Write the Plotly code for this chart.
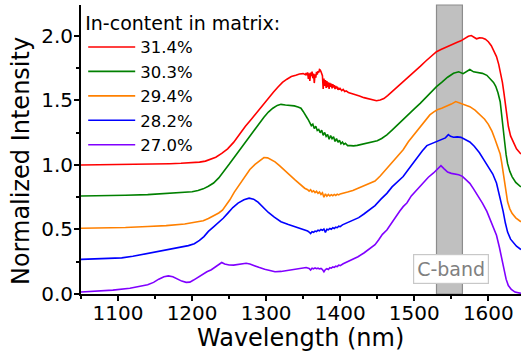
import plotly.graph_objects as go

# Photoluminescence spectra for different indium contents of the matrix
labels = ["31.4%", "30.3%", "29.4%", "28.2%", "27.0%"]
colors = ["#ff0000", "#008000", "#ff8000", "#0000ff", "#8000ff"]

spec_314 = [
    (1050, 1.000), (1070, 1.001), (1090, 1.003), (1110, 1.004), (1130, 1.006), (1150, 1.008),
    (1170, 1.010), (1185, 1.013), (1200, 1.017), (1210, 1.022), (1218, 1.030), (1225, 1.042),
    (1232, 1.060), (1240, 1.090), (1248, 1.125), (1256, 1.175), (1264, 1.240), (1272, 1.300),
    (1280, 1.355), (1289, 1.420), (1296, 1.470), (1303, 1.520), (1310, 1.565), (1316, 1.605),
    (1322, 1.640), (1328, 1.665), (1334, 1.685), (1340, 1.695), (1345, 1.705), (1350, 1.708),
    (1353, 1.700), (1354, 1.712), (1355, 1.695), (1356, 1.718), (1357, 1.668), (1358, 1.710),
    (1359, 1.652), (1360, 1.716), (1361, 1.690), (1362, 1.724), (1363, 1.672), (1364, 1.708),
    (1365, 1.635), (1366, 1.702), (1367, 1.676), (1368, 1.722), (1369, 1.700), (1370, 1.728),
    (1371, 1.716), (1372, 1.740), (1373, 1.736), (1374, 1.724), (1375, 1.708), (1376, 1.692),
    (1377, 1.590), (1378, 1.670), (1379, 1.612), (1380, 1.658), (1381, 1.598), (1382, 1.650),
    (1383, 1.604), (1384, 1.640), (1385, 1.590), (1386, 1.636), (1387, 1.606), (1388, 1.630),
    (1389, 1.594), (1390, 1.626), (1391, 1.600), (1392, 1.618), (1393, 1.588), (1394, 1.612),
    (1395, 1.594), (1396, 1.606), (1397, 1.582), (1398, 1.598), (1399, 1.584), (1400, 1.592),
    (1402, 1.576), (1404, 1.586), (1406, 1.570), (1408, 1.574), (1411, 1.562), (1415, 1.556),
    (1420, 1.546), (1426, 1.535), (1432, 1.522), (1438, 1.512), (1444, 1.502), (1449, 1.498),
    (1454, 1.503), (1459, 1.515), (1464, 1.538), (1470, 1.568), (1477, 1.605), (1485, 1.646),
    (1493, 1.690), (1500, 1.725), (1508, 1.764), (1516, 1.808), (1524, 1.850), (1530, 1.878),
    (1536, 1.895), (1542, 1.912), (1548, 1.930), (1553, 1.943), (1558, 1.952), (1563, 1.962),
    (1568, 1.980), (1573, 1.998), (1577, 2.003), (1581, 1.990), (1584, 1.978), (1588, 1.985),
    (1592, 1.984), (1596, 1.975), (1600, 1.955), (1604, 1.925), (1608, 1.880), (1611, 1.840),
    (1614, 1.780), (1617, 1.710), (1619, 1.640), (1621, 1.560), (1623, 1.470), (1625, 1.380),
    (1627, 1.300), (1630, 1.225), (1634, 1.168), (1638, 1.125), (1644, 1.085),
]

spec_303 = [
    (1050, 0.760), (1080, 0.761), (1110, 0.765), (1140, 0.770), (1165, 0.778), (1185, 0.785),
    (1200, 0.793), (1208, 0.802), (1215, 0.815), (1222, 0.835), (1229, 0.860), (1236, 0.900),
    (1243, 0.950), (1250, 1.005), (1257, 1.060), (1264, 1.115), (1271, 1.175), (1278, 1.230),
    (1285, 1.280), (1291, 1.325), (1297, 1.370), (1303, 1.410), (1309, 1.440),
    (1315, 1.462), (1320, 1.470), (1326, 1.465), (1332, 1.462), (1338, 1.458), (1343, 1.450),
    (1347, 1.440), (1350, 1.415), (1353, 1.392), (1355, 1.368), (1357, 1.350), (1359, 1.326),
    (1361, 1.305), (1363, 1.316), (1365, 1.282), (1367, 1.300), (1369, 1.268), (1371, 1.276),
    (1373, 1.250), (1375, 1.270), (1377, 1.230), (1379, 1.252), (1381, 1.222), (1383, 1.236),
    (1385, 1.200), (1387, 1.228), (1389, 1.204), (1391, 1.218), (1393, 1.182), (1395, 1.204),
    (1397, 1.176), (1399, 1.192), (1401, 1.165), (1403, 1.178), (1405, 1.160), (1407, 1.168),
    (1410, 1.150), (1414, 1.150), (1418, 1.148), (1423, 1.152), (1430, 1.160), (1437, 1.170),
    (1444, 1.180), (1450, 1.188), (1456, 1.205), (1463, 1.233), (1470, 1.270), (1477, 1.310),
    (1485, 1.349), (1492, 1.390), (1500, 1.435), (1508, 1.478), (1515, 1.520), (1522, 1.562),
    (1530, 1.607), (1537, 1.640), (1545, 1.680), (1553, 1.711), (1560, 1.722), (1566, 1.708),
    (1571, 1.725), (1575, 1.740), (1580, 1.722), (1586, 1.715), (1592, 1.710), (1598, 1.695),
    (1603, 1.665), (1607, 1.640), (1610, 1.610), (1613, 1.560), (1616, 1.490), (1618, 1.400),
    (1620, 1.290), (1622, 1.180), (1624, 1.080), (1626, 1.010), (1629, 0.950), (1632, 0.910),
    (1637, 0.865), (1644, 0.830),
]

spec_294 = [
    (1050, 0.510), (1080, 0.511), (1110, 0.516), (1140, 0.523), (1165, 0.530), (1190, 0.543),
    (1205, 0.555), (1215, 0.568), (1222, 0.585), (1229, 0.605), (1236, 0.628), (1241, 0.650),
    (1246, 0.690), (1251, 0.730), (1257, 0.790), (1264, 0.850), (1271, 0.915), (1278, 0.965),
    (1285, 1.005), (1291, 1.035), (1297, 1.058), (1302, 1.055), (1307, 1.040), (1312, 1.024),
    (1318, 0.995), (1325, 0.961), (1332, 0.922), (1339, 0.884), (1346, 0.848), (1352, 0.820),
    (1356, 0.808), (1358, 0.797), (1360, 0.808), (1362, 0.792), (1364, 0.800), (1366, 0.786),
    (1368, 0.796), (1370, 0.780), (1372, 0.790), (1374, 0.772), (1376, 0.784), (1378, 0.750),
    (1380, 0.776), (1382, 0.758), (1384, 0.772), (1386, 0.760), (1388, 0.770), (1390, 0.762),
    (1392, 0.772), (1394, 0.764), (1396, 0.774), (1398, 0.768), (1400, 0.776), (1404, 0.780),
    (1410, 0.790), (1417, 0.803), (1424, 0.819), (1432, 0.838), (1440, 0.855), (1447, 0.875),
    (1454, 0.915), (1460, 0.955), (1466, 1.000), (1472, 1.040), (1478, 1.080), (1485, 1.118),
    (1492, 1.180), (1500, 1.240), (1508, 1.297), (1514, 1.345), (1521, 1.388), (1526, 1.410),
    (1531, 1.428), (1537, 1.440), (1544, 1.455), (1550, 1.472), (1556, 1.492), (1559, 1.485),
    (1564, 1.472), (1570, 1.462), (1575, 1.452), (1582, 1.425), (1589, 1.390), (1595, 1.355),
    (1600, 1.315), (1605, 1.260), (1609, 1.200), (1613, 1.140), (1616, 1.085), (1618, 1.020),
    (1620, 0.950), (1622, 0.870), (1624, 0.790), (1626, 0.715), (1629, 0.660), (1632, 0.625),
    (1637, 0.590), (1644, 0.560),
]

spec_282 = [
    (1050, 0.268), (1080, 0.272), (1105, 0.280), (1120, 0.292), (1139, 0.313), (1161, 0.340),
    (1175, 0.355), (1185, 0.365), (1195, 0.375), (1203, 0.390), (1210, 0.415), (1216, 0.445),
    (1222, 0.485), (1229, 0.520), (1236, 0.555), (1242, 0.587), (1248, 0.625), (1255, 0.670),
    (1262, 0.705), (1270, 0.730), (1277, 0.743), (1283, 0.735), (1289, 0.712), (1296, 0.672),
    (1303, 0.632), (1311, 0.595), (1320, 0.560), (1330, 0.538), (1339, 0.522), (1347, 0.505),
    (1352, 0.495), (1356, 0.488), (1358, 0.480), (1360, 0.468), (1362, 0.482), (1364, 0.478),
    (1366, 0.488), (1368, 0.484), (1370, 0.494), (1372, 0.490), (1374, 0.500), (1376, 0.494),
    (1378, 0.504), (1380, 0.478), (1382, 0.502), (1384, 0.498), (1386, 0.508), (1388, 0.502),
    (1390, 0.514), (1392, 0.508), (1394, 0.518), (1396, 0.514), (1398, 0.526), (1400, 0.522),
    (1403, 0.536), (1408, 0.548), (1414, 0.562), (1420, 0.578), (1425, 0.592), (1432, 0.620),
    (1440, 0.655), (1447, 0.685), (1455, 0.735), (1463, 0.780), (1470, 0.830), (1477, 0.870),
    (1485, 0.910), (1492, 0.965), (1499, 1.020), (1505, 1.060), (1511, 1.110), (1517, 1.150),
    (1523, 1.165), (1530, 1.180), (1537, 1.195), (1542, 1.210), (1546, 1.235), (1549, 1.222),
    (1553, 1.215), (1558, 1.218), (1563, 1.214), (1568, 1.200), (1575, 1.178), (1581, 1.145),
    (1588, 1.095), (1594, 1.040), (1600, 0.990), (1606, 0.930), (1611, 0.860), (1614, 0.790),
    (1617, 0.720), (1620, 0.640), (1623, 0.550), (1626, 0.480), (1630, 0.425), (1634, 0.395),
    (1638, 0.370), (1644, 0.345),
]

spec_270 = [
    (1050, 0.015), (1070, 0.020), (1093, 0.030), (1116, 0.045), (1130, 0.058), (1140, 0.072),
    (1148, 0.090), (1155, 0.115), (1162, 0.133), (1168, 0.140), (1174, 0.133), (1180, 0.115),
    (1186, 0.100), (1192, 0.090), (1197, 0.092), (1202, 0.108), (1208, 0.130), (1214, 0.152),
    (1220, 0.172), (1226, 0.188), (1232, 0.210), (1236, 0.225), (1240, 0.244), (1244, 0.232),
    (1250, 0.225), (1256, 0.224), (1262, 0.228), (1268, 0.232), (1273, 0.238), (1278, 0.232),
    (1284, 0.218), (1290, 0.207), (1298, 0.192), (1305, 0.180), (1312, 0.172), (1320, 0.175),
    (1327, 0.182), (1334, 0.186), (1341, 0.192), (1348, 0.200), (1354, 0.205), (1358, 0.198),
    (1360, 0.186), (1362, 0.200), (1364, 0.195), (1366, 0.202), (1368, 0.196), (1370, 0.200),
    (1372, 0.194), (1374, 0.198), (1376, 0.190), (1378, 0.172), (1380, 0.190), (1382, 0.196),
    (1384, 0.190), (1386, 0.204), (1388, 0.200), (1390, 0.210), (1392, 0.206), (1394, 0.216),
    (1396, 0.212), (1398, 0.224), (1400, 0.220), (1404, 0.234), (1410, 0.250), (1416, 0.268),
    (1424, 0.289), (1432, 0.318), (1440, 0.350), (1447, 0.382), (1452, 0.420), (1457, 0.462),
    (1463, 0.496), (1468, 0.540), (1474, 0.585), (1480, 0.640), (1485, 0.677), (1490, 0.705),
    (1496, 0.760), (1502, 0.800), (1508, 0.832), (1513, 0.865), (1519, 0.905), (1526, 0.938),
    (1531, 0.965), (1536, 0.995), (1540, 0.972), (1545, 0.945), (1550, 0.935), (1555, 0.930),
    (1560, 0.924), (1565, 0.912), (1570, 0.885), (1575, 0.858), (1580, 0.815), (1585, 0.770),
    (1592, 0.705), (1598, 0.640), (1604, 0.560), (1611, 0.455), (1615, 0.360), (1618, 0.270),
    (1621, 0.185), (1624, 0.115), (1627, 0.065), (1631, 0.035), (1636, 0.015), (1644, 0.005),
]

spectra = [spec_314, spec_303, spec_294, spec_282, spec_270]

# telecom C-band (nm)
c_band = (1530, 1565)

x_range = [1050, 1644.1]
y_range = [0, 2.24]

FONT = "DejaVu Sans"

fig = go.Figure()
for name, color, pts in zip(labels, colors, spectra):
    fig.add_trace(go.Scatter(
        x=[p[0] for p in pts], y=[p[1] for p in pts],
        mode="lines", name=name,
        line=dict(color=color, width=1.6),
    ))

fig.add_shape(type="rect", xref="x", yref="y domain",
              x0=c_band[0], x1=c_band[1], y0=0, y1=1,
              fillcolor="#c0c0c0", line=dict(color="#8c8c8c", width=1.2),
              layer="below")

fig.add_annotation(x=(c_band[0] + c_band[1]) / 2, y=0.19, xref="x", yref="y",
                   text="C-band", showarrow=False, xshift=1.5,
                   font=dict(family=FONT, size=19, color="#808080"),
                   bgcolor="white", bordercolor="#c8c8c8", borderwidth=1.2, borderpad=3)

fig.add_annotation(x=0.498, y=0, xref="paper", yref="paper", yshift=-44,
                   text="Wavelength (nm)", showarrow=False, yanchor="middle",
                   font=dict(family=FONT, size=24, color="black"))
fig.add_annotation(x=0, y=0.46, xref="paper", yref="paper", xshift=-60,
                   text="Normalized Intensity", showarrow=False, textangle=-90,
                   xanchor="center", yanchor="middle",
                   font=dict(family=FONT, size=24, color="black"))

axis_common = dict(showgrid=False, zeroline=False, color="black",
                   tickfont=dict(family=FONT, size=20, color="black"))

fig.update_layout(
    width=521, height=356,
    margin=dict(l=81, r=0, t=5, b=62),
    paper_bgcolor="white", plot_bgcolor="white",
    font=dict(family=FONT, color="black"),
    xaxis=dict(range=x_range, showline=True, linecolor="black", linewidth=2,
               ticks="outside", ticklen=5, tickwidth=2, tickcolor="black",
               tick0=1000, dtick=100, ticklabelstandoff=-5,
               minor=dict(ticks="outside", ticklen=3, tickwidth=1.5,
                          tickcolor="black", dtick=50, tick0=1050),
               **axis_common),
    yaxis=dict(range=y_range, showline=True, linecolor="black", linewidth=2,
               ticks="outside", ticklen=5, tickwidth=2, tickcolor="black",
               tick0=0, dtick=0.5, tickformat=".1f", ticklabelstandoff=-3,
               minor=dict(ticks="outside", ticklen=3, tickwidth=1.5,
                          tickcolor="black", dtick=0.25, tick0=0),
               **axis_common),
    xaxis2=dict(range=x_range, overlaying="x", side="top", anchor="y",
                showline=True, linecolor="black", linewidth=2,
                ticks="inside", ticklen=5, tickwidth=2, tickcolor="black",
                tick0=1000, dtick=100, showticklabels=False,
                minor=dict(ticks="inside", ticklen=3, tickwidth=1.5,
                           tickcolor="black", dtick=50, tick0=1050),
                showgrid=False, zeroline=False),
    yaxis2=dict(range=y_range, overlaying="y", side="right", anchor="x",
                showline=False, ticks="inside", ticklen=3, tickwidth=2,
                tickcolor="black", tick0=0, dtick=0.5, showticklabels=False,
                showgrid=False, zeroline=False),
    legend=dict(x=0.005, y=1, xanchor="left", yanchor="top",
                bgcolor="rgba(0,0,0,0)", borderwidth=0,
                font=dict(family=FONT, size=16.5, color="black"),
                title=dict(text="In-content in matrix:",
                           font=dict(family=FONT, size=19, color="black")),
                itemwidth=47, tracegroupgap=0),
    showlegend=True,
)

fig.write_html("out.html")
